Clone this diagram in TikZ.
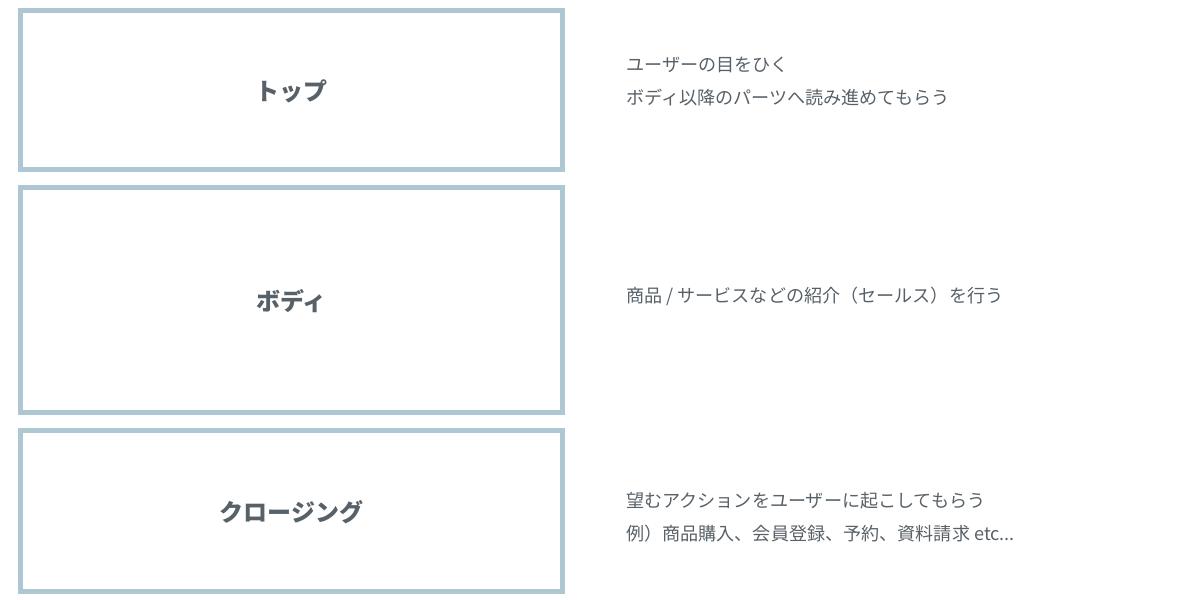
\documentclass[tikz,border=0pt]{standalone}
\usepackage{fontspec}
\setmainfont{Noto Sans CJK JP}
\definecolor{frame}{RGB}{174, 199, 211}
\definecolor{ink}{RGB}{88, 97, 104}

\begin{document}
\begin{tikzpicture}[x=1pt, y=-1pt,
    part/.style={draw=frame, line width=5pt, minimum width=542pt, text=ink,
        text depth=0pt, font=\fontsize{24}{28}\selectfont\bfseries},
    note/.style={anchor=west, align=left, text=ink, inner sep=0pt,
        font=\fontsize{18.1}{32.5}\selectfont}]
        \useasboundingbox (0,0) rectangle (1200,600);
        \node[part, minimum height=159pt] (top) at (291.5,90) {トップ};
        \node[part, minimum height=225pt] (body) at (291.5,300) {ボディ};
        \node[part, minimum height=161pt] (closing) at (291.5,511) {クロージング};
        \node[note] (topnote) at (626,81.5) {ユーザーの目をひく\\ボディ以降のパーツへ読み進めてもらう};
        \node[note] (bodynote) at (626,296.5) {商品 / サービスなどの紹介（セールス）を行う};
        \node[note] (closingnote) at (626,517.5) {望むアクションをユーザーに起こしてもらう\\例）商品購入、会員登録、予約、資料請求 etc...};
    \end{tikzpicture}
\end{document}
